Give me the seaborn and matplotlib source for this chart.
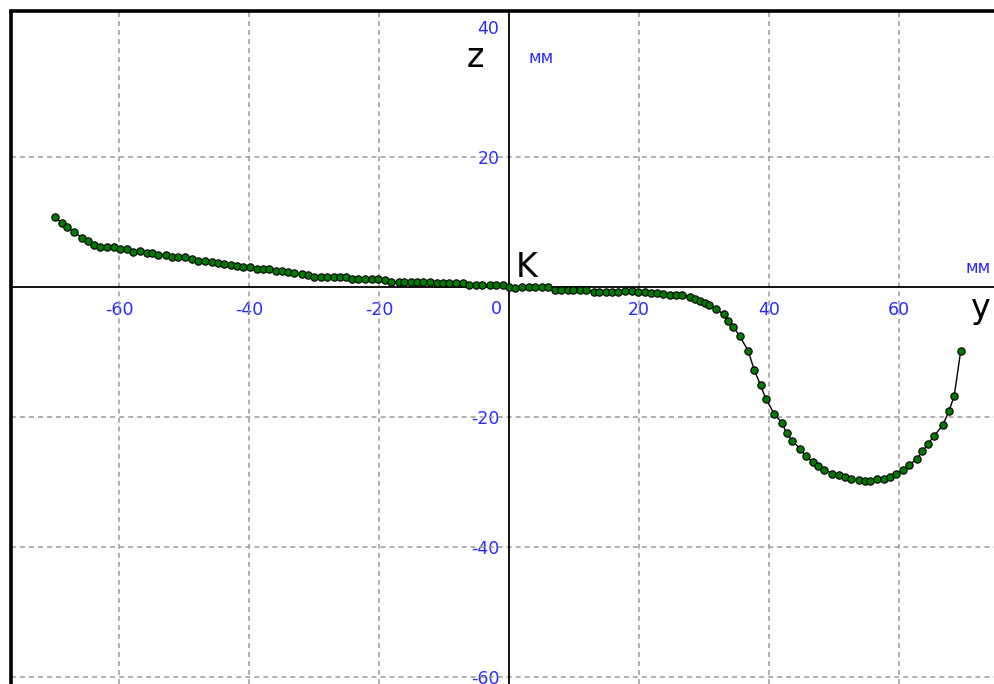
import numpy as np
import seaborn as sns
import matplotlib.pyplot as plt
from matplotlib.ticker import MultipleLocator, FuncFormatter

# profile points, horizontal coordinate y (mm) and height z (mm)
y_mm = [-69.8, -68.8, -68.0, -67.0, -65.7, -64.7, -63.8, -62.9, -61.8, -60.8,
        -59.8, -58.8, -57.9, -56.8, -55.7, -54.9, -54.0, -52.8, -51.9, -50.9,
        -49.8, -48.7, -47.8, -46.8, -45.7, -44.8, -43.8, -42.8, -41.9, -41.0,
        -39.8, -38.8, -37.9, -36.9, -35.8,
        -35.0, -34.0, -33.1, -31.9, -30.9, -30.0, -28.9, -28.0, -27.0, -26.0,
        -25.1, -24.1, -23.2, -22.2, -21.1, -20.1, -19.1, -18.1, -17.0, -16.1,
        -15.1, -14.2, -13.2, -12.2, -11.1, -10.2, -9.2, -8.2, -7.1, -6.1,
        -5.1, -4.1, -3.0, -2.0, -1.0,
        0.0, 0.9, 2.0, 3.0, 4.0, 5.0, 6.0, 7.1, 8.0, 9.0,
        9.9, 10.9, 11.8, 13.0, 13.9, 14.9, 15.9, 16.8, 17.9, 18.9,
        19.9, 20.9, 21.8,
        22.7, 23.7, 24.8, 25.7, 26.6, 27.8, 28.6, 29.4, 30.2, 30.8,
        31.9, 33.0, 33.7, 34.5, 35.5, 36.8, 37.7, 38.7, 39.5, 40.8,
        42.0, 42.7, 43.6, 44.8, 45.7, 46.7, 47.6, 48.5, 49.7, 50.7,
        51.7, 52.6, 53.8, 54.8, 55.6, 56.6, 57.7, 58.6, 59.6, 60.6,
        61.5, 62.7, 63.6, 64.5, 65.4, 66.7, 67.7, 68.5, 69.5]
z_mm = [10.8, 9.8, 9.2, 8.5, 7.6, 7.0, 6.5, 6.1, 6.1, 6.1,
        5.8, 5.8, 5.4, 5.5, 5.3, 5.2, 4.9, 4.9, 4.6, 4.6,
        4.6, 4.3, 4.0, 4.0, 3.8, 3.7, 3.6, 3.4, 3.3, 3.0,
        3.1, 2.7, 2.7, 2.7, 2.5,
        2.4, 2.3, 2.1, 2.0, 1.9, 1.6, 1.5, 1.5, 1.5, 1.5,
        1.5, 1.2, 1.2, 1.2, 1.2, 1.3, 1.1, 0.8, 0.8, 0.8,
        0.8, 0.8, 0.8, 0.7, 0.6, 0.6, 0.6, 0.6, 0.6, 0.3,
        0.3, 0.3, 0.3, 0.3, 0.3,
        0.0, -0.1, 0.0, 0.0, 0.0, 0.0, 0.0, -0.4, -0.4, -0.4,
        -0.4, -0.4, -0.4, -0.7, -0.7, -0.7, -0.7, -0.7, -0.6, -0.6,
        -0.7, -0.8, -0.9,
        -1.0, -1.1, -1.3, -1.3, -1.2, -1.5, -1.8, -2.2, -2.5, -2.8,
        -3.4, -4.2, -5.2, -6.1, -7.6, -9.8, -12.7, -15.1, -17.2, -19.5,
        -20.9, -22.5, -23.7, -24.9, -26.0, -26.9, -27.5, -28.1, -28.7, -29.0,
        -29.3, -29.6, -29.7, -29.9, -29.9, -29.6, -29.5, -29.2, -28.7, -28.1,
        -27.4, -26.5, -25.3, -24.1, -22.9, -21.3, -19.1, -16.7, -9.8]

x_ticks = [-60, -40, -20, 0, 20, 40, 60]
z_ticks = [-60, -40, -20, 0, 20, 40]
x_grid = [-60, -40, -20, 20, 40, 60]
z_grid = [-60, -40, -20, 20]

sns.set_style("white")
plt.rcParams['font.family'] = ['DejaVu Sans']
plt.rcParams['axes.unicode_minus'] = False
plt.rcParams['text.color'] = 'black'
plt.rcParams['xtick.color'] = 'black'
plt.rcParams['ytick.color'] = 'black'

blue = '#2a2aff'

fig = plt.figure(figsize=(9.95, 6.84), dpi=100)
ax = fig.add_axes([11 / 995, 0, 984 / 995, 673 / 684])
ax.set_xlim(-76.62, 74.77)
ax.set_ylim(-61.08, 42.46)

# dashed grid
for gx in x_grid:
    ax.axvline(gx, color='#9a9a9a', lw=1.1, ls=(0, (3.2, 2.7)), zorder=1)
for gz in z_grid:
    ax.axhline(gz, color='#9a9a9a', lw=1.1, ls=(0, (3.2, 2.7)), zorder=1)

sns.lineplot(x=y_mm, y=z_mm, sort=False, estimator=None, ax=ax,
             color='black', lw=1, marker='o', markersize=5.3,
             markerfacecolor='#007a00', markeredgecolor='black',
             markeredgewidth=0.8, zorder=3)

# axes through origin
ax.spines['left'].set_position(('data', 0))
ax.spines['bottom'].set_position(('data', 0))
for s in ['left', 'bottom']:
    ax.spines[s].set_color('black')
    ax.spines[s].set_linewidth(1.3)
ax.spines['right'].set_visible(False)
ax.spines['top'].set_color('black')
ax.spines['top'].set_linewidth(2.6)
ax.plot([0, 0], [0, 1], transform=ax.transAxes, color='black', lw=2.6,
        clip_on=False, zorder=5)

ax.set_xticks(x_ticks)
ax.set_yticks(z_ticks)
ax.xaxis.set_minor_locator(MultipleLocator(4))
ax.yaxis.set_minor_locator(MultipleLocator(4))
fmt = FuncFormatter(lambda v, p: '' if v == 0 else f'{v:.0f}')
ax.xaxis.set_major_formatter(fmt)
ax.yaxis.set_major_formatter(fmt)

ax.tick_params(axis='x', which='major', direction='inout', length=10,
               width=1.2, pad=5, labelsize=12.5, labelcolor=blue)
ax.tick_params(axis='x', which='minor', direction='in', length=2.5, width=1.2)
ax.tick_params(axis='y', which='major', direction='in', length=7,
               width=1.2, pad=7, labelsize=12.5, labelcolor=blue)
ax.tick_params(axis='y', which='minor', direction='in', length=3.5, width=1.2)

ax.text(-1.12, -4.15, '0', color=blue, fontsize=12.5, ha='right', va='baseline')
ax.text(-5.2, 33.85, 'z', color='black', fontsize=24, ha='center', va='baseline')
ax.text(4.9, 34.46, 'мм', color=blue, fontsize=12, ha='center', va='baseline')
ax.text(1.0, 1.54, 'K', color='black', fontsize=24, ha='left', va='baseline')
ax.text(72.15, 2.15, 'мм', color=blue, fontsize=12, ha='center', va='baseline')
ax.text(72.5, -4.77, 'y', color='black', fontsize=24, ha='center', va='baseline')

fig.savefig('out.png', dpi=100)
